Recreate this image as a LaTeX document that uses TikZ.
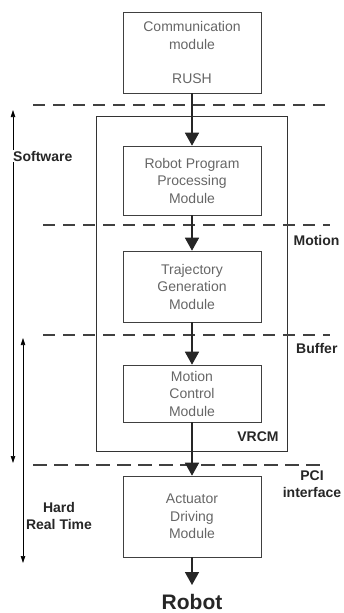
\documentclass[tikz,border=0pt]{standalone}
\usepackage{fontspec}
\setmainfont{Liberation Sans}
\usepackage{tikz}
\usetikzlibrary{arrows.meta,positioning,fit}
\tikzstyle{every node}=[font=\fontsize{14}{17.5}\selectfont]

\begin{document}
\begin{tikzpicture}[x=1pt,y=-1pt,
    module/.style={
        draw=black!75,
        line width=0.6pt,
        text=black!60,
        align=center,
        minimum width=138pt,
        inner sep=0pt
        },
    layer/.style={
        font=\bfseries\fontsize{14}{17.5}\selectfont,
        text=black!85,
        align=center
        },
    flow/.style={
        line width=1.5pt,
        draw=black!85,
        -{Triangle[width=14pt,length=13pt]}
        },
    border/.style={
        dash pattern=on 12pt off 8pt,
        line width=1.8pt,
        draw=black!75
        },
    span/.style={
        line width=0.6pt,
        {Triangle[width=4.5pt,length=7pt]}-{Triangle[width=4.5pt,length=7pt]}
        },
  ]
  \useasboundingbox (0,0) rectangle (344,613);
  % Modules
  \node[module, minimum height=81pt] (comm) at (192,52.5) {Communication\\module\\[17pt]RUSH};
  \node[module, minimum height=69pt] (rpp) at (192,180.5) {Robot Program\\Processing\\Module};
  \node[module, minimum height=71pt] (tgm) at (192,286.5) {Trajectory\\Generation\\Module};
  \node[module, minimum height=57pt] (mcm) at (192,393.5) {Motion\\Control\\Module};
  \node[module, minimum height=81pt] (adm) at (192,516.5) {Actuator\\Driving\\Module};
  % VRCM frame
  \node[draw=black!80, line width=0.9pt, fit=(rpp)(mcm), inner xsep=26.5pt, inner ysep=29pt] (vrcm) {};
  \node[layer] (vrcmlabel) at (258,437) {VRCM};
  % Layer borders
  \draw[border] (33,105) -- (330,105);
  \draw[border] (43,225) -- (330,225);
  \draw[border] (43,335) -- (330,335);
  \draw[border, line width=1.2pt, dash pattern=on 14pt off 7pt] (33,465) -- (320,465);
  % Data flow
  \coordinate (out) at (192,585);
  \draw[flow] (comm) -- (rpp);
  \draw[flow] (rpp) -- (tgm);
  \draw[flow] (tgm) -- (mcm);
  \draw[flow] (mcm) -- (adm);
  \draw[flow] (adm) -- (out);
  \node[font=\bfseries\fontsize{21}{24}\selectfont, text=black!85] (robot) at (192,602) {Robot};
  % Layer names
  \node[layer, anchor=east] (motion) at (343,240) {Motion};
  \node[layer, anchor=east] (buffer) at (341,348) {Buffer};
  \node[layer] (pci) at (312,484) {PCI\\interface};
  % Spans
  \coordinate (swtop) at (13,110);
  \coordinate (swbot) at (13,463);
  \coordinate (rttop) at (23,338);
  \coordinate (rtbot) at (23,563);
  \draw[span] (swtop) -- (swbot);
  \draw[span] (rttop) -- (rtbot);
  \node[layer, fill=white, anchor=west, inner sep=1pt] (software) at (12,156) {Software};
  \node[layer] (hrt) at (59,516) {Hard\\Real Time};
\end{tikzpicture}
\end{document}
